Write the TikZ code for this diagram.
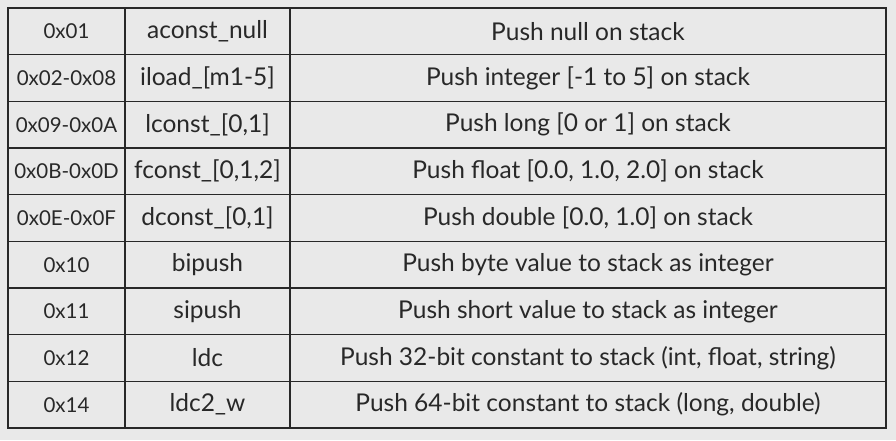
\documentclass[tikz,border=0pt]{standalone}
\usepackage{fontspec}
\setmainfont{Lato}
\usepackage{tikz}
\definecolor{pagebg}{RGB}{233,233,233}
\definecolor{inkgray}{RGB}{40,40,40}
\tikzset{every picture/.style={line width=0.75pt}}
\tikzset{
  cell/.style={inner sep=0.75pt, text=inkgray, font=\fontsize{24.5}{28}\selectfont, anchor=center},
  codecell/.style={cell, font=\fontsize{20.5}{24}\selectfont},
  rule/.style={draw=inkgray, line width=1.4pt}
}

\begin{document}
\begin{tikzpicture}[x=1pt,y=1pt,yscale=-1,xscale=1]
\useasboundingbox (0,0) rectangle (896,440);
\fill[pagebg] (0,0) rectangle (896,440);

%Shape: Rectangle [id:frame]
\draw [rule]  (8,8) rectangle (886,428);
%Straight Lines [id:colA]
\draw [rule]  (125,8) -- (125,428);
%Straight Lines [id:colB]
\draw [rule]  (290,8) -- (290,428);
%Straight Lines [id:rows]
\draw [rule]  (8,54.67) -- (886,54.67);
\draw [rule]  (8,101.33) -- (886,101.33);
\draw [rule]  (8,148) -- (886,148);
\draw [rule]  (8,194.67) -- (886,194.67);
\draw [rule]  (8,241.33) -- (886,241.33);
\draw [rule]  (8,288) -- (886,288);
\draw [rule]  (8,334.67) -- (886,334.67);
\draw [rule]  (8,381.33) -- (886,381.33);

% Text Node
\node [codecell] (codeA) at (66.5,31.33) {0x01};
% Text Node
\node [cell] (nameA) at (207.5,31.33) {aconst\_null};
% Text Node
\node [cell] (infoA) at (588,31.33) {Push null on stack};
% Text Node
\node [codecell] (codeB) at (66.5,78) {0x02-0x08};
% Text Node
\node [cell] (nameB) at (207.5,78) {iload\_[m1-5]};
% Text Node
\node [cell] (infoB) at (588,78) {Push integer [-1 to 5] on stack};
% Text Node
\node [codecell] (codeC) at (66.5,124.67) {0x09-0x0A};
% Text Node
\node [cell] (nameC) at (207.5,124.67) {lconst\_[0,1]};
% Text Node
\node [cell] (infoC) at (588,124.67) {Push long [0 or 1] on stack};
% Text Node
\node [codecell] (codeD) at (66.5,171.33) {0x0B-0x0D};
% Text Node
\node [cell] (nameD) at (207.5,171.33) {fconst\_[0,1,2]};
% Text Node
\node [cell] (infoD) at (588,171.33) {Push float [0.0, 1.0, 2.0] on stack};
% Text Node
\node [codecell] (codeE) at (66.5,218) {0x0E-0x0F};
% Text Node
\node [cell] (nameE) at (207.5,218) {dconst\_[0,1]};
% Text Node
\node [cell] (infoE) at (588,218) {Push double [0.0, 1.0] on stack};
% Text Node
\node [codecell] (codeF) at (66.5,264.67) {0x10};
% Text Node
\node [cell] (nameF) at (207.5,264.67) {bipush};
% Text Node
\node [cell] (infoF) at (588,264.67) {Push byte value to stack as integer};
% Text Node
\node [codecell] (codeG) at (66.5,311.33) {0x11};
% Text Node
\node [cell] (nameG) at (207.5,311.33) {sipush};
% Text Node
\node [cell] (infoG) at (588,311.33) {Push short value to stack as integer};
% Text Node
\node [codecell] (codeH) at (66.5,358) {0x12};
% Text Node
\node [cell] (nameH) at (207.5,358) {ldc};
% Text Node
\node [cell] (infoH) at (588,358) {Push 32-bit constant to stack (int, float, string)};
% Text Node
\node [codecell] (codeI) at (66.5,404.67) {0x14};
% Text Node
\node [cell] (nameI) at (207.5,404.67) {ldc2\_w};
% Text Node
\node [cell] (infoI) at (588,404.67) {Push 64-bit constant to stack (long, double)};

\end{tikzpicture}
\end{document}
